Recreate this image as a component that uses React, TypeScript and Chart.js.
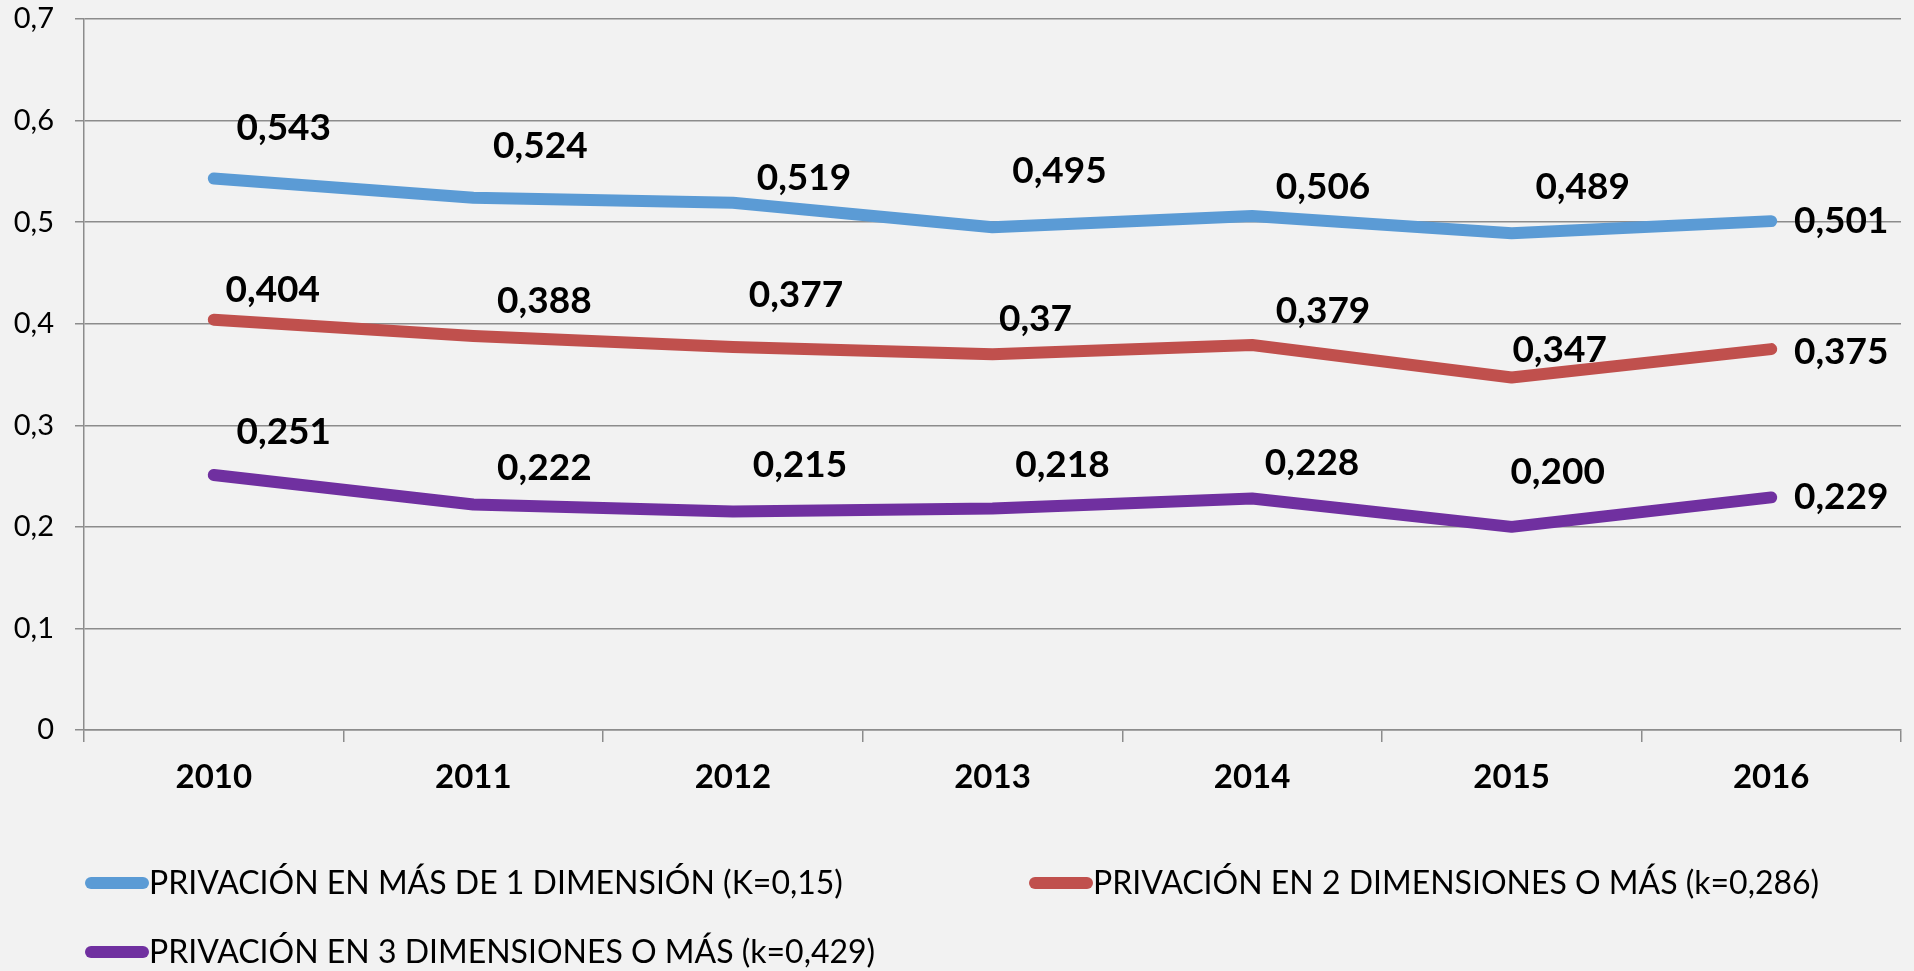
import React, { useEffect, useRef } from "react";
import { Chart, registerables } from "chart.js";

Chart.register(...registerables);

// ---- data ----
const YEARS = ["2010", "2011", "2012", "2013", "2014", "2015", "2016"];

const NAME_MAS_DE_1 = "PRIVACIÓN EN MÁS DE 1 DIMENSIÓN (K=0,15)";
const NAME_DOS_O_MAS = "PRIVACIÓN EN 2 DIMENSIONES O MÁS (k=0,286)";
const NAME_TRES_O_MAS = "PRIVACIÓN EN 3 DIMENSIONES O MÁS (k=0,429)";

const MAS_DE_1 = [0.543, 0.524, 0.519, 0.495, 0.506, 0.489, 0.501];
const DOS_O_MAS = [0.404, 0.388, 0.377, 0.37, 0.379, 0.347, 0.375];
const TRES_O_MAS = [0.251, 0.222, 0.215, 0.218, 0.228, 0.2, 0.229];

const MAS_DE_1_TXT = ["0,543", "0,524", "0,519", "0,495", "0,506", "0,489", "0,501"];
const DOS_O_MAS_TXT = ["0,404", "0,388", "0,377", "0,37", "0,379", "0,347", "0,375"];
const TRES_O_MAS_TXT = ["0,251", "0,222", "0,215", "0,218", "0,228", "0,200", "0,229"];

const Y_TICK_LABELS = ["0", "0,1", "0,2", "0,3", "0,4", "0,5", "0,6", "0,7"];

// ---- styling (label placement, colors) ----
const COLORS = ["#5B9BD5", "#C0504D", "#7030A0"];
const LABEL_OFFSETS = [
  [[70, -50], [67, -52], [71, -25], [67, -56], [71, -29], [71, -46], [70, 0]],
  [[59, -30], [71, -35], [63, -52], [43, -35], [71, -34], [48, -27], [70, 3]],
  [[70, -43], [71, -36], [67, -47], [70, -44], [60, -35], [46, -55], [70, 0]],
];
const LABEL_TEXTS = [MAS_DE_1_TXT, DOS_O_MAS_TXT, TRES_O_MAS_TXT];
const FONT = "Lato, 'Noto Sans', sans-serif";
const GRID = "#8c8c8c";

const dataLabelPlugin = {
  id: "dataLabels",
  afterDatasetsDraw(chart: any) {
    const ctx = chart.ctx;
    ctx.save();
    ctx.font = `bold 37px ${FONT}`;
    ctx.fillStyle = "#000";
    ctx.textAlign = "center";
    ctx.textBaseline = "middle";
    chart.data.datasets.forEach((_ds: any, di: number) => {
      const meta = chart.getDatasetMeta(di);
      meta.data.forEach((pt: any, i: number) => {
        const [dx, dy] = LABEL_OFFSETS[di][i];
        ctx.fillText(LABEL_TEXTS[di][i], pt.x + dx, pt.y + dy);
      });
    });
    ctx.restore();
  },
};

const legendPlugin = {
  id: "excelLegend",
  afterDraw(chart: any) {
    const ctx = chart.ctx;
    const left = chart.chartArea.left + 1;
    const slots = [
      { x: left, y: 883 },
      { x: left + 944, y: 883 },
      { x: left, y: 952 },
    ];
    ctx.save();
    ctx.font = `32px ${FONT}`;
    ctx.textAlign = "left";
    ctx.textBaseline = "middle";
    chart.data.datasets.forEach((ds: any, i: number) => {
      const s = slots[i];
      ctx.strokeStyle = ds.borderColor;
      ctx.lineWidth = 12;
      ctx.lineCap = "round";
      ctx.beginPath();
      ctx.moveTo(s.x + 6, s.y);
      ctx.lineTo(s.x + 58, s.y);
      ctx.stroke();
      ctx.fillStyle = "#000";
      ctx.fillText(ds.label, s.x + 64, s.y + 1);
    });
    ctx.restore();
  },
};

export default function App() {
  const ref = useRef<HTMLCanvasElement>(null);

  useEffect(() => {
    document.body.style.margin = "0";
    document.body.style.background = "#f2f2f2";
    const names = [NAME_MAS_DE_1, NAME_DOS_O_MAS, NAME_TRES_O_MAS];
    const values = [MAS_DE_1, DOS_O_MAS, TRES_O_MAS];
    const chart = new Chart(ref.current as HTMLCanvasElement, {
      type: "line",
      data: {
        labels: YEARS,
        datasets: values.map((v, i) => ({
          label: names[i],
          data: v,
          borderColor: COLORS[i],
          backgroundColor: COLORS[i],
          borderWidth: 12,
          borderCapStyle: "round",
          borderJoinStyle: "round",
          pointRadius: 0,
          pointHoverRadius: 0,
          tension: 0,
          fill: false,
        })),
      },
      options: {
        responsive: false,
        animation: false,
        events: [],
        layout: { padding: { left: 0, right: 13, top: 19, bottom: 171 } },
        plugins: {
          legend: { display: false },
          tooltip: { enabled: false },
          title: { display: false },
        },
        scales: {
          x: {
            type: "category",
            offset: true,
            grid: {
              offset: true,
              drawOnChartArea: false,
              drawTicks: true,
              tickLength: 12,
              color: GRID,
              lineWidth: 1.5,
            },
            border: { display: true, color: GRID, width: 1.5 },
            ticks: {
              color: "#000",
              padding: 16,
              font: { family: FONT, size: 33, weight: "bold" },
              maxRotation: 0,
            },
            afterFit: (scale: any) => {
              scale.height = 70;
            },
          },
          y: {
            min: 0,
            max: 0.7,
            grid: {
              drawOnChartArea: true,
              drawTicks: true,
              tickLength: 9,
              color: GRID,
              lineWidth: 1.5,
            },
            border: { display: true, color: GRID, width: 1.5 },
            ticks: {
              stepSize: 0.1,
              color: "#000",
              padding: 21,
              font: { family: FONT, size: 29 },
              callback: (_v: any, idx: number) => Y_TICK_LABELS[idx],
            },
            afterFit: (scale: any) => {
              scale.width = 84;
              scale.paddingTop = 0;
              scale.paddingBottom = 0;
            },
          },
        },
      },
      plugins: [dataLabelPlugin, legendPlugin],
    } as any);
    return () => chart.destroy();
  }, []);

  return (
    <div style={{ width: 1914, height: 971, background: "#f2f2f2" }}>
      <canvas ref={ref} width={1914} height={971} style={{ display: "block" }} />
    </div>
  );
}
